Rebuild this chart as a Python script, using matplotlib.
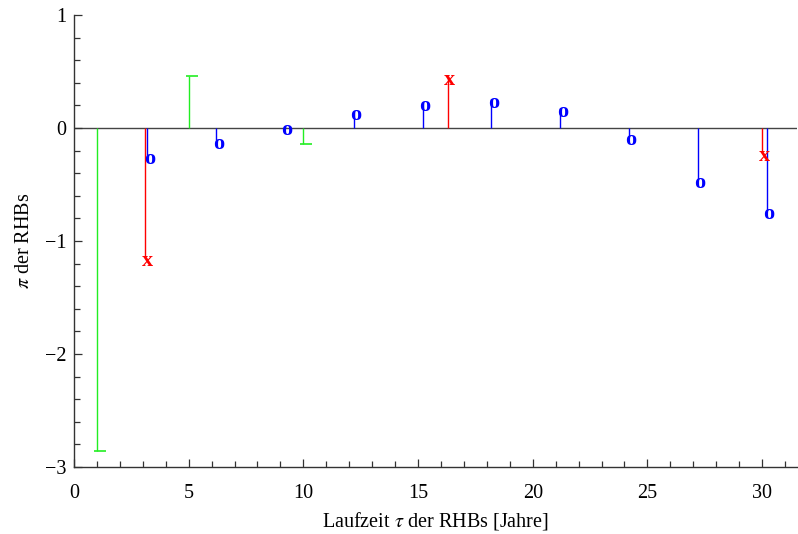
import matplotlib
matplotlib.use("Agg")
from matplotlib import pyplot as plt
from matplotlib.ticker import MultipleLocator

# RHB data: term (years) and pi value, three groups
blue_x = [3.2, 6.2, 9.2, 12.2, 15.2, 18.2, 21.2, 24.2, 27.2, 30.2]
blue_y = [-0.24, -0.11, 0.02, 0.15, 0.23, 0.26, 0.18, -0.07, -0.45, -0.73]
red_x = [3.1, 16.3, 30.0]
red_y = [-1.14, 0.46, -0.21]
green_x = [1.0, 5.0, 10.0]
green_y = [-2.86, 0.46, -0.14]

x_ticks = [0, 5, 10, 15, 20, 25, 30]
y_ticks = [-3, -2, -1, 0, 1]
y_labels = ["\u22123", "\u22122", "\u22121", "0", "1"]

plt.rcParams["font.family"] = ["Liberation Serif", "DejaVu Serif"]
plt.rcParams["mathtext.fontset"] = "stix"

fig = plt.figure(figsize=(7.98, 5.34), dpi=100)
ax = fig.add_axes([0.0927, 0.1255, 0.9063, 0.8465])

blue = "#0000ff"
red = "#ff0000"
green = "#22ee22"

# zero line
ax.axhline(0, color="#444444", lw=1, zorder=1)

# stems
ax.vlines(blue_x, 0, blue_y, color=blue, lw=1)
ax.vlines(red_x, 0, red_y, color=red, lw=1)
ax.vlines(green_x, 0, green_y, color=green, lw=1)

# green bar markers
for x, y in zip(green_x, green_y):
    ax.hlines(y, x - 0.13, x + 0.39, color=green, lw=1.2)

# text markers
for x, y in zip(blue_x, blue_y):
    ax.annotate("o", (x, y), xytext=(2, -4), textcoords="offset pixels",
                ha="center", va="center", color=blue, fontsize=16,
                fontweight="bold")
for x, y in zip(red_x, red_y):
    ax.annotate("x", (x, y), xytext=(2, -4), textcoords="offset pixels",
                ha="center", va="center", color=red, fontsize=16,
                fontweight="bold")

ax.set_xlim(0, 31.53)
ax.set_ylim(-3, 1)
ax.set_xticks(x_ticks)
ax.set_yticks(y_ticks)
ax.set_yticklabels(y_labels)
ax.xaxis.set_minor_locator(MultipleLocator(1))
ax.yaxis.set_minor_locator(MultipleLocator(0.2))
ax.tick_params(which="both", direction="in", width=0.9, color="#333333",
               labelsize=14.5)
ax.tick_params(which="major", length=6)
ax.tick_params(which="minor", length=4)
ax.tick_params(axis="x", which="both", pad=12)
ax.tick_params(axis="y", which="both", pad=5.5)
ax.tick_params(top=False, right=False)
for side in ["top", "right"]:
    ax.spines[side].set_visible(False)
for side in ["left", "bottom"]:
    ax.spines[side].set_color("#333333")
    ax.spines[side].set_linewidth(1)

ax.set_xlabel(r"Laufzeit $\tau$ der RHBs [Jahre]", fontsize=14.5, labelpad=5)
ax.set_ylabel(r"$\pi$ der RHBs", fontsize=14.5, labelpad=7.5)

fig.savefig("out.png", dpi=100)
